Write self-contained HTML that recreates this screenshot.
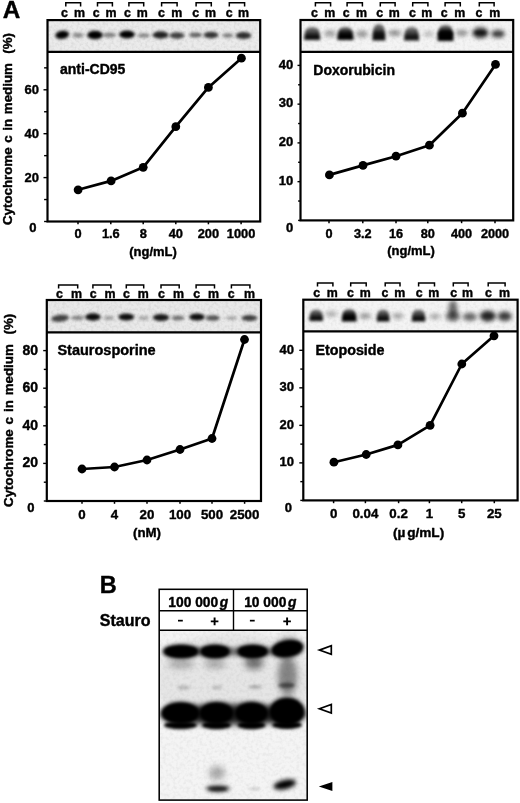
<!DOCTYPE html>
<html><head><meta charset="utf-8"><title>Figure</title>
<style>
html,body{margin:0;padding:0;background:#fff;}
svg{display:block;will-change:transform;}
text{font-family:"Liberation Sans",sans-serif;font-weight:bold;fill:#000;stroke:#000;stroke-width:0.4px;stroke-linejoin:round;}
</style></head><body>
<svg width="520" height="803" viewBox="0 0 520 803">
<defs>
<filter id="b1" x="-50%" y="-100%" width="200%" height="300%"><feGaussianBlur stdDeviation="1"/></filter>
<filter id="b15" x="-50%" y="-100%" width="200%" height="300%"><feGaussianBlur stdDeviation="1.5"/></filter>
<filter id="b2" x="-50%" y="-100%" width="200%" height="300%"><feGaussianBlur stdDeviation="2.2"/></filter>
<filter id="b3" x="-50%" y="-100%" width="200%" height="300%"><feGaussianBlur stdDeviation="3"/></filter>
<filter id="b5" x="-50%" y="-100%" width="200%" height="300%"><feGaussianBlur stdDeviation="5"/></filter>
<linearGradient id="gd1" x1="0" y1="0" x2="0" y2="1"><stop offset="0" stop-color="#000" stop-opacity="0.5"/><stop offset="0.45" stop-color="#000" stop-opacity="0.8"/><stop offset="0.7" stop-color="#000" stop-opacity="1"/><stop offset="1" stop-color="#000" stop-opacity="1"/></linearGradient>
<linearGradient id="gd2" x1="0" y1="0" x2="0" y2="1"><stop offset="0" stop-color="#000" stop-opacity="0.5"/><stop offset="0.4" stop-color="#000" stop-opacity="0.9"/><stop offset="0.6" stop-color="#000" stop-opacity="1"/><stop offset="1" stop-color="#000" stop-opacity="1"/></linearGradient>
<filter id="noiseA" x="0" y="0" width="100%" height="100%">
<feTurbulence type="fractalNoise" baseFrequency="0.35" numOctaves="2" seed="3" result="n"/>
<feColorMatrix in="n" type="matrix" values="0 0 0 0 0  0 0 0 0 0  0 0 0 0 0  0.5 0 0 0 -0.2"/>
</filter>
<filter id="noiseB" x="0" y="0" width="100%" height="100%">
<feTurbulence type="fractalNoise" baseFrequency="0.3" numOctaves="2" seed="8" result="n"/>
<feColorMatrix in="n" type="matrix" values="0 0 0 0 0  0 0 0 0 0  0 0 0 0 0  0.5 0 0 0 -0.2"/>
</filter>
<clipPath id="tlclip"><rect x="47.5" y="20.1" width="212.7" height="31.7"/></clipPath>
<clipPath id="trclip"><rect x="300.5" y="20" width="212.7" height="31.9"/></clipPath>
<clipPath id="blclip"><rect x="46.8" y="300" width="214.2" height="32.4"/></clipPath>
<clipPath id="brclip"><rect x="303.3" y="299.7" width="214.3" height="31.7"/></clipPath>
<clipPath id="bclip"><rect x="159.2" y="630.2" width="148" height="169.9"/></clipPath>
</defs>
<rect x="0" y="0" width="520" height="803" fill="#fff"/>
<text x="2.7" y="18.2" font-size="24.3" text-anchor="start" >A</text>
<text x="99.8" y="593" font-size="23.5" text-anchor="start" >B</text>
<rect x="47.5" y="20.1" width="212.7" height="31.7" fill="#ebebeb"/>
<rect x="47.5" y="20.1" width="212.7" height="31.7" filter="url(#noiseA)" opacity="0.3"/>
<g clip-path="url(#tlclip)">
<ellipse cx="62.2" cy="34.8" rx="7" ry="4" fill="#000" opacity="1" filter="url(#b15)" transform="rotate(-8 62.2 34.8)"/>
<ellipse cx="78" cy="35.2" rx="5.5" ry="2.4" fill="#000" opacity="0.42" filter="url(#b15)"/>
<ellipse cx="95" cy="35" rx="7.8" ry="4.3" fill="#000" opacity="1" filter="url(#b15)"/>
<ellipse cx="109.4" cy="35" rx="6.5" ry="2.4" fill="#000" opacity="0.45" filter="url(#b15)"/>
<ellipse cx="127" cy="34.5" rx="7.8" ry="3.9" fill="#000" opacity="1" filter="url(#b15)"/>
<ellipse cx="143.7" cy="35.5" rx="6.5" ry="2.2" fill="#000" opacity="0.42" filter="url(#b15)"/>
<ellipse cx="160.6" cy="35" rx="8" ry="3.7" fill="#000" opacity="0.86" filter="url(#b15)"/>
<ellipse cx="177" cy="35.5" rx="7.5" ry="3.3" fill="#000" opacity="0.72" filter="url(#b15)"/>
<ellipse cx="195.5" cy="35" rx="6.5" ry="2.6" fill="#000" opacity="0.58" filter="url(#b15)"/>
<ellipse cx="211" cy="35" rx="7.5" ry="3.2" fill="#000" opacity="0.78" filter="url(#b15)"/>
<ellipse cx="227.8" cy="35.5" rx="5.5" ry="2.4" fill="#000" opacity="0.42" filter="url(#b15)"/>
<ellipse cx="243.5" cy="35.5" rx="7.8" ry="3.6" fill="#000" opacity="0.8" filter="url(#b15)"/>
</g>
<rect x="47.5" y="20.1" width="212.7" height="201.4" fill="none" stroke="#000" stroke-width="2.2"/>
<line x1="47.5" y1="51.8" x2="260.2" y2="51.8" stroke="#000" stroke-width="2.2"/>
<path d="M65.8 6.4V2.7H80.6V6.4" fill="none" stroke="#000" stroke-width="1.5"/>
<text x="64.5" y="17.2" font-size="12.4" text-anchor="middle" >c</text>
<text x="79.5" y="17.2" font-size="12.4" text-anchor="middle" >m</text>
<path d="M97.5 6.4V2.7H112.4V6.4" fill="none" stroke="#000" stroke-width="1.5"/>
<text x="96.3" y="17.2" font-size="12.4" text-anchor="middle" >c</text>
<text x="110.9" y="17.2" font-size="12.4" text-anchor="middle" >m</text>
<path d="M128.9 6.4V2.7H143.7V6.4" fill="none" stroke="#000" stroke-width="1.5"/>
<text x="127.5" y="17.2" font-size="12.4" text-anchor="middle" >c</text>
<text x="142.3" y="17.2" font-size="12.4" text-anchor="middle" >m</text>
<path d="M161.6 6.4V2.7H177.1V6.4" fill="none" stroke="#000" stroke-width="1.5"/>
<text x="161.4" y="17.2" font-size="12.4" text-anchor="middle" >c</text>
<text x="176.8" y="17.2" font-size="12.4" text-anchor="middle" >m</text>
<path d="M196.1 6.4V2.7H211.3V6.4" fill="none" stroke="#000" stroke-width="1.5"/>
<text x="195.7" y="17.2" font-size="12.4" text-anchor="middle" >c</text>
<text x="210.6" y="17.2" font-size="12.4" text-anchor="middle" >m</text>
<path d="M229.3 6.4V2.7H244.6V6.4" fill="none" stroke="#000" stroke-width="1.5"/>
<text x="229.1" y="17.2" font-size="12.4" text-anchor="middle" >c</text>
<text x="243.6" y="17.2" font-size="12.4" text-anchor="middle" >m</text>
<line x1="44.1" y1="221.5" x2="47.5" y2="221.5" stroke="#000" stroke-width="1.4"/>
<line x1="44.1" y1="199.55" x2="47.5" y2="199.55" stroke="#000" stroke-width="1.4"/>
<line x1="43.5" y1="177.6" x2="47.5" y2="177.6" stroke="#000" stroke-width="1.4"/>
<line x1="44.1" y1="155.65" x2="47.5" y2="155.65" stroke="#000" stroke-width="1.4"/>
<line x1="43.5" y1="133.7" x2="47.5" y2="133.7" stroke="#000" stroke-width="1.4"/>
<line x1="44.1" y1="111.75" x2="47.5" y2="111.75" stroke="#000" stroke-width="1.4"/>
<line x1="43.5" y1="89.8" x2="47.5" y2="89.8" stroke="#000" stroke-width="1.4"/>
<line x1="44.1" y1="67.85" x2="47.5" y2="67.85" stroke="#000" stroke-width="1.4"/>
<text x="36.5" y="232" font-size="13" text-anchor="end" >0</text>
<text x="38.9" y="181.9" font-size="13" text-anchor="end" >20</text>
<text x="38.9" y="138" font-size="13" text-anchor="end" >40</text>
<text x="38.9" y="94.1" font-size="13" text-anchor="end" >60</text>
<line x1="78" y1="221.5" x2="78" y2="224.3" stroke="#000" stroke-width="1.5"/>
<text x="78" y="238.4" font-size="12.8" text-anchor="middle" >0</text>
<line x1="110.8" y1="221.5" x2="110.8" y2="224.3" stroke="#000" stroke-width="1.5"/>
<text x="110.8" y="238.4" font-size="12.8" text-anchor="middle" >1.6</text>
<line x1="143.2" y1="221.5" x2="143.2" y2="224.3" stroke="#000" stroke-width="1.5"/>
<text x="143.2" y="238.4" font-size="12.8" text-anchor="middle" >8</text>
<line x1="175.8" y1="221.5" x2="175.8" y2="224.3" stroke="#000" stroke-width="1.5"/>
<text x="175.8" y="238.4" font-size="12.8" text-anchor="middle" >40</text>
<line x1="208.4" y1="221.5" x2="208.4" y2="224.3" stroke="#000" stroke-width="1.5"/>
<text x="208.4" y="238.4" font-size="12.8" text-anchor="middle" >200</text>
<line x1="241.1" y1="221.5" x2="241.1" y2="224.3" stroke="#000" stroke-width="1.5"/>
<text x="241.1" y="238.4" font-size="12.8" text-anchor="middle" >1000</text>
<text x="153" y="255.6" font-size="13" text-anchor="middle" >(ng/mL)</text>
<text x="60" y="74" font-size="14" text-anchor="start" >anti-CD95</text>
<path d="M78.1 189.8L111.1 180.9L143.2 167.3L175.8 126.7L208.4 87.4L241.4 58.2" fill="none" stroke="#000" stroke-width="2.7" stroke-linejoin="round"/>
<circle cx="78.1" cy="189.8" r="4.4" fill="#000"/>
<circle cx="111.1" cy="180.9" r="4.4" fill="#000"/>
<circle cx="143.2" cy="167.3" r="4.4" fill="#000"/>
<circle cx="175.8" cy="126.7" r="4.4" fill="#000"/>
<circle cx="208.4" cy="87.4" r="4.4" fill="#000"/>
<circle cx="241.4" cy="58.2" r="4.4" fill="#000"/>
<rect x="300.5" y="20" width="212.7" height="31.9" fill="#f4f4f4"/>
<rect x="300.5" y="20" width="212.7" height="31.9" filter="url(#noiseA)" opacity="0.22"/>
<g clip-path="url(#trclip)">
<path d="M304.2 40H320.2C320.2 30.9 318.6 27 312.2 27C305.8 27 304.2 30.9 304.2 40Z" fill="url(#gd1)" opacity="0.95" filter="url(#b15)"/>
<ellipse cx="330" cy="33.5" rx="6" ry="3.6" fill="#000" opacity="0.33" filter="url(#b2)"/>
<path d="M337.3 40H353.5C353.5 30.9 351.88 27 345.4 27C338.92 27 337.3 30.9 337.3 40Z" fill="url(#gd2)" opacity="1" filter="url(#b15)"/>
<ellipse cx="362" cy="34" rx="6" ry="3.5" fill="#000" opacity="0.38" filter="url(#b2)"/>
<path d="M372.4 40.5H385.4C385.4 28.95 384.1 24 378.9 24C373.7 24 372.4 28.95 372.4 40.5Z" fill="url(#gd1)" opacity="0.95" filter="url(#b15)"/>
<ellipse cx="378.9" cy="33.5" rx="5" ry="2" fill="#000" opacity="0.5" filter="url(#b15)"/>
<ellipse cx="394.7" cy="33" rx="6.5" ry="3" fill="#000" opacity="0.42" filter="url(#b2)"/>
<path d="M404.1 40.5H419.1C419.1 31.05 417.6 27 411.6 27C405.6 27 404.1 31.05 404.1 40.5Z" fill="url(#gd1)" opacity="0.92" filter="url(#b15)"/>
<ellipse cx="428.6" cy="34" rx="5.5" ry="3" fill="#000" opacity="0.22" filter="url(#b2)"/>
<path d="M437.5 41H453.5C453.5 29.8 451.9 25 445.5 25C439.1 25 437.5 29.8 437.5 41Z" fill="url(#gd2)" opacity="1" filter="url(#b15)"/>
<ellipse cx="445.5" cy="34" rx="7.5" ry="3.5" fill="#000" opacity="0.8" filter="url(#b15)"/>
<ellipse cx="461.8" cy="33" rx="6" ry="3.2" fill="#000" opacity="0.4" filter="url(#b2)"/>
<ellipse cx="480.4" cy="32.8" rx="8" ry="5.5" fill="#000" opacity="0.78" filter="url(#b2)"/>
<ellipse cx="480.4" cy="32.8" rx="6" ry="1.8" fill="#000" opacity="0.7" filter="url(#b15)"/>
<ellipse cx="498" cy="33.8" rx="7" ry="4" fill="#000" opacity="0.66" filter="url(#b2)"/>
<ellipse cx="498" cy="34" rx="5" ry="1.4" fill="#000" opacity="0.3" filter="url(#b15)"/>
</g>
<rect x="300.5" y="20" width="212.7" height="200.4" fill="none" stroke="#000" stroke-width="2.2"/>
<line x1="300.5" y1="51.9" x2="513.2" y2="51.9" stroke="#000" stroke-width="2.2"/>
<path d="M315.4 6.4V2.7H330.6V6.4" fill="none" stroke="#000" stroke-width="1.5"/>
<text x="314.5" y="17.2" font-size="12.4" text-anchor="middle" >c</text>
<text x="329.7" y="17.2" font-size="12.4" text-anchor="middle" >m</text>
<path d="M347.1 6.4V2.7H362.4V6.4" fill="none" stroke="#000" stroke-width="1.5"/>
<text x="346.3" y="17.2" font-size="12.4" text-anchor="middle" >c</text>
<text x="361.4" y="17.2" font-size="12.4" text-anchor="middle" >m</text>
<path d="M380.3 6.4V2.7H395.1V6.4" fill="none" stroke="#000" stroke-width="1.5"/>
<text x="379.7" y="17.2" font-size="12.4" text-anchor="middle" >c</text>
<text x="394.2" y="17.2" font-size="12.4" text-anchor="middle" >m</text>
<path d="M412.7 6.4V2.7H427.9V6.4" fill="none" stroke="#000" stroke-width="1.5"/>
<text x="412.5" y="17.2" font-size="12.4" text-anchor="middle" >c</text>
<text x="426.8" y="17.2" font-size="12.4" text-anchor="middle" >m</text>
<path d="M445.1 6.4V2.7H460.3V6.4" fill="none" stroke="#000" stroke-width="1.5"/>
<text x="444.1" y="17.2" font-size="12.4" text-anchor="middle" >c</text>
<text x="459.8" y="17.2" font-size="12.4" text-anchor="middle" >m</text>
<path d="M479.3 6.4V2.7H494.1V6.4" fill="none" stroke="#000" stroke-width="1.5"/>
<text x="479" y="17.2" font-size="12.4" text-anchor="middle" >c</text>
<text x="494.7" y="17.2" font-size="12.4" text-anchor="middle" >m</text>
<line x1="298.1" y1="220.4" x2="300.5" y2="220.4" stroke="#000" stroke-width="1.4"/>
<line x1="298.1" y1="201.03" x2="300.5" y2="201.03" stroke="#000" stroke-width="1.4"/>
<line x1="297.5" y1="181.65" x2="300.5" y2="181.65" stroke="#000" stroke-width="1.4"/>
<line x1="298.1" y1="162.28" x2="300.5" y2="162.28" stroke="#000" stroke-width="1.4"/>
<line x1="297.5" y1="142.9" x2="300.5" y2="142.9" stroke="#000" stroke-width="1.4"/>
<line x1="298.1" y1="123.53" x2="300.5" y2="123.53" stroke="#000" stroke-width="1.4"/>
<line x1="297.5" y1="104.15" x2="300.5" y2="104.15" stroke="#000" stroke-width="1.4"/>
<line x1="298.1" y1="84.78" x2="300.5" y2="84.78" stroke="#000" stroke-width="1.4"/>
<line x1="297.5" y1="65.4" x2="300.5" y2="65.4" stroke="#000" stroke-width="1.4"/>
<text x="293.3" y="231.6" font-size="13" text-anchor="end" >0</text>
<text x="293.3" y="184.75" font-size="13" text-anchor="end" >10</text>
<text x="293.3" y="146" font-size="13" text-anchor="end" >20</text>
<text x="293.3" y="107.25" font-size="13" text-anchor="end" >30</text>
<text x="293.3" y="68.5" font-size="13" text-anchor="end" >40</text>
<line x1="329" y1="220.4" x2="329" y2="223.2" stroke="#000" stroke-width="1.5"/>
<text x="329" y="237.8" font-size="12.7" text-anchor="middle" >0</text>
<line x1="362.8" y1="220.4" x2="362.8" y2="223.2" stroke="#000" stroke-width="1.5"/>
<text x="362.8" y="237.8" font-size="12.7" text-anchor="middle" >3.2</text>
<line x1="396" y1="220.4" x2="396" y2="223.2" stroke="#000" stroke-width="1.5"/>
<text x="396" y="237.8" font-size="12.7" text-anchor="middle" >16</text>
<line x1="427.8" y1="220.4" x2="427.8" y2="223.2" stroke="#000" stroke-width="1.5"/>
<text x="427.8" y="237.8" font-size="12.7" text-anchor="middle" >80</text>
<line x1="461.6" y1="220.4" x2="461.6" y2="223.2" stroke="#000" stroke-width="1.5"/>
<text x="461.6" y="237.8" font-size="12.7" text-anchor="middle" >400</text>
<line x1="495" y1="220.4" x2="495" y2="223.2" stroke="#000" stroke-width="1.5"/>
<text x="495" y="237.8" font-size="12.7" text-anchor="middle" >2000</text>
<text x="411" y="254.7" font-size="13" text-anchor="middle" >(ng/mL)</text>
<text x="313.3" y="75.2" font-size="14" text-anchor="start" >Doxorubicin</text>
<path d="M329.4 174.9L363 165.4L396 156.2L429.4 145.2L462.4 113.2L495.5 64.4" fill="none" stroke="#000" stroke-width="2.7" stroke-linejoin="round"/>
<circle cx="329.4" cy="174.9" r="4.4" fill="#000"/>
<circle cx="363" cy="165.4" r="4.4" fill="#000"/>
<circle cx="396" cy="156.2" r="4.4" fill="#000"/>
<circle cx="429.4" cy="145.2" r="4.4" fill="#000"/>
<circle cx="462.4" cy="113.2" r="4.4" fill="#000"/>
<circle cx="495.5" cy="64.4" r="4.4" fill="#000"/>
<rect x="46.8" y="300" width="214.2" height="32.4" fill="#e9e9e9"/>
<rect x="46.8" y="300" width="214.2" height="32.4" filter="url(#noiseA)" opacity="0.3"/>
<g clip-path="url(#blclip)">
<ellipse cx="60.1" cy="318.3" rx="9" ry="3.5" fill="#000" opacity="0.72" filter="url(#b15)" transform="rotate(-6 60.1 318.3)"/>
<ellipse cx="77.7" cy="317.8" rx="6.5" ry="2.4" fill="#000" opacity="0.42" filter="url(#b15)"/>
<ellipse cx="92.9" cy="317" rx="7.8" ry="3.7" fill="#000" opacity="0.95" filter="url(#b15)"/>
<ellipse cx="108.8" cy="318" rx="5.5" ry="2.2" fill="#000" opacity="0.3" filter="url(#b15)"/>
<ellipse cx="126.3" cy="317" rx="8" ry="3.5" fill="#000" opacity="0.95" filter="url(#b15)"/>
<ellipse cx="143.7" cy="318" rx="5.5" ry="2" fill="#000" opacity="0.28" filter="url(#b15)"/>
<ellipse cx="161" cy="317.5" rx="8.2" ry="3.5" fill="#000" opacity="0.9" filter="url(#b15)"/>
<ellipse cx="177.9" cy="318" rx="6.5" ry="2.6" fill="#000" opacity="0.5" filter="url(#b15)"/>
<ellipse cx="197" cy="317" rx="7.8" ry="3.6" fill="#000" opacity="0.95" filter="url(#b15)"/>
<ellipse cx="212.8" cy="318" rx="7" ry="2.8" fill="#000" opacity="0.65" filter="url(#b15)"/>
<ellipse cx="231.6" cy="318" rx="5.5" ry="1.8" fill="#000" opacity="0.3" filter="url(#b15)"/>
<ellipse cx="249.4" cy="318" rx="8" ry="3" fill="#000" opacity="0.75" filter="url(#b15)"/>
</g>
<rect x="46.8" y="300" width="214.2" height="201" fill="none" stroke="#000" stroke-width="2.2"/>
<line x1="46.8" y1="332.4" x2="261" y2="332.4" stroke="#000" stroke-width="2.2"/>
<path d="M58.6 288.6V284.9H77.7V288.6" fill="none" stroke="#000" stroke-width="1.5"/>
<text x="59.4" y="297.6" font-size="12.4" text-anchor="middle" >c</text>
<text x="76.5" y="297.6" font-size="12.4" text-anchor="middle" >m</text>
<path d="M92.9 288.6V284.9H110.9V288.6" fill="none" stroke="#000" stroke-width="1.5"/>
<text x="93.2" y="297.6" font-size="12.4" text-anchor="middle" >c</text>
<text x="110" y="297.6" font-size="12.4" text-anchor="middle" >m</text>
<path d="M126.3 288.6V284.9H143.7V288.6" fill="none" stroke="#000" stroke-width="1.5"/>
<text x="126.5" y="297.6" font-size="12.4" text-anchor="middle" >c</text>
<text x="143.2" y="297.6" font-size="12.4" text-anchor="middle" >m</text>
<path d="M161 288.6V284.9H179.2V288.6" fill="none" stroke="#000" stroke-width="1.5"/>
<text x="161.4" y="297.6" font-size="12.4" text-anchor="middle" >c</text>
<text x="178.5" y="297.6" font-size="12.4" text-anchor="middle" >m</text>
<path d="M196.1 288.6V284.9H214.5V288.6" fill="none" stroke="#000" stroke-width="1.5"/>
<text x="196.8" y="297.6" font-size="12.4" text-anchor="middle" >c</text>
<text x="213.6" y="297.6" font-size="12.4" text-anchor="middle" >m</text>
<path d="M231.4 288.6V284.9H249.9V288.6" fill="none" stroke="#000" stroke-width="1.5"/>
<text x="231.2" y="297.6" font-size="12.4" text-anchor="middle" >c</text>
<text x="249.5" y="297.6" font-size="12.4" text-anchor="middle" >m</text>
<line x1="43.8" y1="501" x2="46.8" y2="501" stroke="#000" stroke-width="1.4"/>
<line x1="43.8" y1="482.2" x2="46.8" y2="482.2" stroke="#000" stroke-width="1.4"/>
<line x1="43.2" y1="463.4" x2="46.8" y2="463.4" stroke="#000" stroke-width="1.4"/>
<line x1="43.8" y1="444.6" x2="46.8" y2="444.6" stroke="#000" stroke-width="1.4"/>
<line x1="43.2" y1="425.8" x2="46.8" y2="425.8" stroke="#000" stroke-width="1.4"/>
<line x1="43.8" y1="407" x2="46.8" y2="407" stroke="#000" stroke-width="1.4"/>
<line x1="43.2" y1="388.2" x2="46.8" y2="388.2" stroke="#000" stroke-width="1.4"/>
<line x1="43.8" y1="369.4" x2="46.8" y2="369.4" stroke="#000" stroke-width="1.4"/>
<line x1="43.2" y1="350.6" x2="46.8" y2="350.6" stroke="#000" stroke-width="1.4"/>
<text x="34.6" y="511.9" font-size="13" text-anchor="end" >0</text>
<text x="38" y="467.3" font-size="14" text-anchor="end" >20</text>
<text x="38" y="429.7" font-size="14" text-anchor="end" >40</text>
<text x="38" y="392.1" font-size="14" text-anchor="end" >60</text>
<text x="38" y="354.5" font-size="14" text-anchor="end" >80</text>
<line x1="82" y1="501" x2="82" y2="503.8" stroke="#000" stroke-width="1.5"/>
<text x="82" y="519.2" font-size="13.3" text-anchor="middle" >0</text>
<line x1="114.5" y1="501" x2="114.5" y2="503.8" stroke="#000" stroke-width="1.5"/>
<text x="114.5" y="519.2" font-size="13.3" text-anchor="middle" >4</text>
<line x1="147" y1="501" x2="147" y2="503.8" stroke="#000" stroke-width="1.5"/>
<text x="147" y="519.2" font-size="13.3" text-anchor="middle" >20</text>
<line x1="180" y1="501" x2="180" y2="503.8" stroke="#000" stroke-width="1.5"/>
<text x="180" y="519.2" font-size="13.3" text-anchor="middle" >100</text>
<line x1="212" y1="501" x2="212" y2="503.8" stroke="#000" stroke-width="1.5"/>
<text x="212" y="519.2" font-size="13.3" text-anchor="middle" >500</text>
<line x1="244.6" y1="501" x2="244.6" y2="503.8" stroke="#000" stroke-width="1.5"/>
<text x="244.6" y="519.2" font-size="13.3" text-anchor="middle" >2500</text>
<text x="147" y="537" font-size="13.3" text-anchor="middle" >(nM)</text>
<text x="57.4" y="355.2" font-size="14.5" text-anchor="start" >Staurosporine</text>
<path d="M82 469L114.5 467L147 460L180 449.5L212 438.5L244.5 339.5" fill="none" stroke="#000" stroke-width="2.7" stroke-linejoin="round"/>
<circle cx="82" cy="469" r="4.4" fill="#000"/>
<circle cx="114.5" cy="467" r="4.4" fill="#000"/>
<circle cx="147" cy="460" r="4.4" fill="#000"/>
<circle cx="180" cy="449.5" r="4.4" fill="#000"/>
<circle cx="212" cy="438.5" r="4.4" fill="#000"/>
<circle cx="244.5" cy="339.5" r="4.4" fill="#000"/>
<rect x="303.3" y="299.7" width="214.3" height="31.7" fill="#f4f4f4"/>
<rect x="303.3" y="299.7" width="214.3" height="31.7" filter="url(#noiseA)" opacity="0.22"/>
<g clip-path="url(#brclip)">
<path d="M309.4 321H323C323 312.95 321.64 309.5 316.2 309.5C310.76 309.5 309.4 312.95 309.4 321Z" fill="url(#gd1)" opacity="0.95" filter="url(#b15)"/>
<ellipse cx="331.3" cy="314" rx="6" ry="2.8" fill="#000" opacity="0.3" filter="url(#b2)"/>
<path d="M341.8 321.5H356.6C356.6 312.75 355.12 309 349.2 309C343.28 309 341.8 312.75 341.8 321.5Z" fill="url(#gd2)" opacity="1" filter="url(#b15)"/>
<ellipse cx="365.1" cy="316" rx="6" ry="2.8" fill="#000" opacity="0.4" filter="url(#b2)"/>
<path d="M376.7 321.5H389.5C389.5 313.1 388.22 309.5 383.1 309.5C377.98 309.5 376.7 313.1 376.7 321.5Z" fill="url(#gd1)" opacity="0.95" filter="url(#b15)"/>
<ellipse cx="397.9" cy="316" rx="5.5" ry="2.8" fill="#000" opacity="0.36" filter="url(#b2)"/>
<path d="M411.8 321.5H425.4C425.4 313.1 424.04 309.5 418.6 309.5C413.16 309.5 411.8 313.1 411.8 321.5Z" fill="url(#gd1)" opacity="0.95" filter="url(#b15)"/>
<ellipse cx="434.9" cy="316.5" rx="5.5" ry="2.8" fill="#000" opacity="0.32" filter="url(#b2)"/>
<ellipse cx="452.9" cy="309.5" rx="4.5" ry="9.5" fill="#000" opacity="0.55" filter="url(#b2)"/>
<ellipse cx="452.9" cy="316.5" rx="7.5" ry="5" fill="#000" opacity="0.5" filter="url(#b2)"/>
<ellipse cx="469.8" cy="316.8" rx="7" ry="4" fill="#000" opacity="0.58" filter="url(#b2)"/>
<ellipse cx="487.8" cy="316" rx="8" ry="5.4" fill="#000" opacity="0.85" filter="url(#b2)"/>
<ellipse cx="504.7" cy="316.3" rx="7" ry="4.8" fill="#000" opacity="0.75" filter="url(#b2)"/>
</g>
<rect x="303.3" y="299.7" width="214.3" height="200.7" fill="none" stroke="#000" stroke-width="2.2"/>
<line x1="303.3" y1="331.4" x2="517.6" y2="331.4" stroke="#000" stroke-width="2.2"/>
<path d="M317.5 286.6V282.9H332.9V286.6" fill="none" stroke="#000" stroke-width="1.5"/>
<text x="316.7" y="297.2" font-size="12.4" text-anchor="middle" >c</text>
<text x="332.3" y="297.2" font-size="12.4" text-anchor="middle" >m</text>
<path d="M350.7 286.6V282.9H366.2V286.6" fill="none" stroke="#000" stroke-width="1.5"/>
<text x="350.5" y="297.2" font-size="12.4" text-anchor="middle" >c</text>
<text x="365.2" y="297.2" font-size="12.4" text-anchor="middle" >m</text>
<path d="M385.2 286.6V282.9H400V286.6" fill="none" stroke="#000" stroke-width="1.5"/>
<text x="384.9" y="297.2" font-size="12.4" text-anchor="middle" >c</text>
<text x="399.8" y="297.2" font-size="12.4" text-anchor="middle" >m</text>
<path d="M418.6 286.6V282.9H434.5V286.6" fill="none" stroke="#000" stroke-width="1.5"/>
<text x="419.3" y="297.2" font-size="12.4" text-anchor="middle" >c</text>
<text x="433.7" y="297.2" font-size="12.4" text-anchor="middle" >m</text>
<path d="M453.3 286.6V282.9H468.1V286.6" fill="none" stroke="#000" stroke-width="1.5"/>
<text x="453.7" y="297.2" font-size="12.4" text-anchor="middle" >c</text>
<text x="467.4" y="297.2" font-size="12.4" text-anchor="middle" >m</text>
<path d="M488.2 286.6V282.9H505.1V286.6" fill="none" stroke="#000" stroke-width="1.5"/>
<text x="488.5" y="297.2" font-size="12.4" text-anchor="middle" >c</text>
<text x="504.6" y="297.2" font-size="12.4" text-anchor="middle" >m</text>
<line x1="300.3" y1="500.4" x2="303.3" y2="500.4" stroke="#000" stroke-width="1.4"/>
<line x1="300.3" y1="481.64" x2="303.3" y2="481.64" stroke="#000" stroke-width="1.4"/>
<line x1="299.3" y1="462.88" x2="303.3" y2="462.88" stroke="#000" stroke-width="1.4"/>
<line x1="300.3" y1="444.12" x2="303.3" y2="444.12" stroke="#000" stroke-width="1.4"/>
<line x1="299.3" y1="425.36" x2="303.3" y2="425.36" stroke="#000" stroke-width="1.4"/>
<line x1="300.3" y1="406.6" x2="303.3" y2="406.6" stroke="#000" stroke-width="1.4"/>
<line x1="299.3" y1="387.84" x2="303.3" y2="387.84" stroke="#000" stroke-width="1.4"/>
<line x1="300.3" y1="369.08" x2="303.3" y2="369.08" stroke="#000" stroke-width="1.4"/>
<line x1="299.3" y1="350.32" x2="303.3" y2="350.32" stroke="#000" stroke-width="1.4"/>
<text x="291.9" y="512" font-size="13" text-anchor="end" >0</text>
<text x="293.9" y="466.18" font-size="13" text-anchor="end" >10</text>
<text x="293.9" y="428.66" font-size="13" text-anchor="end" >20</text>
<text x="293.9" y="391.14" font-size="13" text-anchor="end" >30</text>
<text x="293.9" y="353.62" font-size="13" text-anchor="end" >40</text>
<line x1="333.6" y1="500.4" x2="333.6" y2="503.2" stroke="#000" stroke-width="1.5"/>
<text x="333.6" y="518.3" font-size="13.3" text-anchor="middle" >0</text>
<line x1="365.4" y1="500.4" x2="365.4" y2="503.2" stroke="#000" stroke-width="1.5"/>
<text x="365.4" y="518.3" font-size="13.3" text-anchor="middle" >0.04</text>
<line x1="398.6" y1="500.4" x2="398.6" y2="503.2" stroke="#000" stroke-width="1.5"/>
<text x="398.6" y="518.3" font-size="13.3" text-anchor="middle" >0.2</text>
<line x1="429.4" y1="500.4" x2="429.4" y2="503.2" stroke="#000" stroke-width="1.5"/>
<text x="429.4" y="518.3" font-size="13.3" text-anchor="middle" >1</text>
<line x1="461.7" y1="500.4" x2="461.7" y2="503.2" stroke="#000" stroke-width="1.5"/>
<text x="461.7" y="518.3" font-size="13.3" text-anchor="middle" >5</text>
<line x1="494.3" y1="500.4" x2="494.3" y2="503.2" stroke="#000" stroke-width="1.5"/>
<text x="494.3" y="518.3" font-size="13.3" text-anchor="middle" >25</text>
<text x="418.6" y="536.7" font-size="13.6" text-anchor="middle" >(&#181;<tspan dx="1.8">g/mL)</tspan></text>
<text x="315.4" y="354.9" font-size="14.3" text-anchor="start" >Etoposide</text>
<path d="M333.9 462.2L366.2 454.5L397.9 444.9L430.1 425.3L461.8 364L494 335.8" fill="none" stroke="#000" stroke-width="2.7" stroke-linejoin="round"/>
<circle cx="333.9" cy="462.2" r="4.4" fill="#000"/>
<circle cx="366.2" cy="454.5" r="4.4" fill="#000"/>
<circle cx="397.9" cy="444.9" r="4.4" fill="#000"/>
<circle cx="430.1" cy="425.3" r="4.4" fill="#000"/>
<circle cx="461.8" cy="364" r="4.4" fill="#000"/>
<circle cx="494" cy="335.8" r="4.4" fill="#000"/>
<text transform="translate(12.4 225) rotate(-90)" font-size="13.3" word-spacing="1.0" text-anchor="start" xml:space="preserve">Cytochrome c in medium  (%)</text>
<text transform="translate(13 506.9) rotate(-90)" font-size="13.3" word-spacing="1.25" text-anchor="start" xml:space="preserve">Cytochrome c in medium  (%)</text>
<rect x="159.2" y="630.2" width="148" height="169.9" fill="#f4f4f4"/>
<rect x="159.2" y="630.2" width="148" height="169.9" filter="url(#noiseB)" opacity="0.22"/>
<g clip-path="url(#bclip)">
<ellipse cx="233" cy="680" rx="80" ry="48" fill="#000" opacity="0.06" filter="url(#b5)"/>
<ellipse cx="181" cy="651.5" rx="18" ry="7" fill="#000" opacity="1" filter="url(#b2)"/>
<ellipse cx="215" cy="651.5" rx="15" ry="7" fill="#000" opacity="1" filter="url(#b2)"/>
<ellipse cx="252.7" cy="651.5" rx="15.5" ry="7" fill="#000" opacity="1" filter="url(#b2)"/>
<ellipse cx="287.5" cy="648.6" rx="16" ry="9" fill="#000" opacity="1" filter="url(#b2)" transform="rotate(-9 287.5 648.6)"/>
<ellipse cx="181" cy="651.5" rx="16" ry="5.5" fill="#000" opacity="1" filter="url(#b15)"/>
<ellipse cx="215" cy="651.5" rx="13.5" ry="5.5" fill="#000" opacity="1" filter="url(#b15)"/>
<ellipse cx="252.7" cy="651.5" rx="14" ry="5.5" fill="#000" opacity="1" filter="url(#b15)"/>
<ellipse cx="287.5" cy="648.6" rx="15" ry="7.2" fill="#000" opacity="1" filter="url(#b15)" transform="rotate(-9 287.5 648.6)"/>
<ellipse cx="232" cy="651.5" rx="70" ry="4" fill="#000" opacity="0.5" filter="url(#b2)"/>
<ellipse cx="288" cy="637" rx="10" ry="4" fill="#000" opacity="0.12" filter="url(#b3)"/>
<ellipse cx="287.5" cy="676" rx="9.5" ry="20" fill="#000" opacity="0.42" filter="url(#b3)"/>
<ellipse cx="254" cy="663" rx="9.5" ry="6.5" fill="#000" opacity="0.5" filter="url(#b3)"/>
<ellipse cx="181" cy="664" rx="13" ry="4.5" fill="#000" opacity="0.26" filter="url(#b3)"/>
<ellipse cx="215" cy="664" rx="11" ry="4.5" fill="#000" opacity="0.26" filter="url(#b3)"/>
<ellipse cx="183.5" cy="687.5" rx="6.5" ry="2" fill="#000" opacity="0.2" filter="url(#b15)"/>
<ellipse cx="217" cy="687.5" rx="5.5" ry="2" fill="#000" opacity="0.18" filter="url(#b15)"/>
<ellipse cx="255" cy="687" rx="7" ry="1.5" fill="#000" opacity="0.32" filter="url(#b15)"/>
<ellipse cx="286.5" cy="685.3" rx="8.5" ry="2.6" fill="#000" opacity="0.5" filter="url(#b15)"/>
<ellipse cx="180.5" cy="713" rx="19" ry="11" fill="#000" opacity="1" filter="url(#b2)"/>
<ellipse cx="216.5" cy="713" rx="17" ry="11" fill="#000" opacity="1" filter="url(#b2)"/>
<ellipse cx="251.5" cy="713" rx="16.5" ry="11" fill="#000" opacity="1" filter="url(#b2)"/>
<ellipse cx="287" cy="711.5" rx="17.5" ry="14" fill="#000" opacity="1" filter="url(#b2)"/>
<ellipse cx="180.5" cy="713" rx="17.5" ry="9.5" fill="#000" opacity="1" filter="url(#b15)"/>
<ellipse cx="216.5" cy="713" rx="15.5" ry="9.5" fill="#000" opacity="1" filter="url(#b15)"/>
<ellipse cx="251.5" cy="713" rx="15" ry="9.5" fill="#000" opacity="1" filter="url(#b15)"/>
<ellipse cx="287" cy="711.5" rx="16" ry="12.5" fill="#000" opacity="1" filter="url(#b15)"/>
<ellipse cx="233" cy="714.5" rx="74" ry="10" fill="#000" opacity="0.85" filter="url(#b3)"/>
<ellipse cx="180.5" cy="725.2" rx="16.5" ry="4" fill="#000" opacity="1" filter="url(#b15)"/>
<ellipse cx="216.5" cy="725.2" rx="14.5" ry="4" fill="#000" opacity="1" filter="url(#b15)"/>
<ellipse cx="251.5" cy="725.2" rx="14" ry="4" fill="#000" opacity="1" filter="url(#b15)"/>
<ellipse cx="287" cy="725" rx="15" ry="4" fill="#000" opacity="1" filter="url(#b15)"/>
<ellipse cx="217.8" cy="788.6" rx="12" ry="3.2" fill="#000" opacity="0.85" filter="url(#b2)"/>
<ellipse cx="217.8" cy="789" rx="9" ry="1.6" fill="#000" opacity="0.6" filter="url(#b15)"/>
<ellipse cx="217" cy="773" rx="8" ry="7" fill="#000" opacity="0.3" filter="url(#b3)"/>
<ellipse cx="254.5" cy="789" rx="6" ry="1.5" fill="#000" opacity="0.16" filter="url(#b15)"/>
<ellipse cx="284.8" cy="784.6" rx="11.5" ry="4.6" fill="#000" opacity="1" filter="url(#b2)" transform="rotate(-13 284.8 784.6)"/>
</g>
<rect x="159.2" y="589.3" width="148" height="210.8" fill="none" stroke="#000" stroke-width="1.55"/>
<line x1="159.2" y1="610.8" x2="307.2" y2="610.8" stroke="#000" stroke-width="1.4"/>
<line x1="159.2" y1="630.2" x2="307.2" y2="630.2" stroke="#000" stroke-width="1.4"/>
<line x1="233.5" y1="589.3" x2="233.5" y2="630.2" stroke="#000" stroke-width="1.4"/>
<text x="168.3" y="607" font-size="13.8" text-anchor="start">100 000<tspan font-style="italic" dx="1.6">g</tspan></text>
<text x="244.2" y="607" font-size="13.8" text-anchor="start">10 000<tspan font-style="italic" dx="1.6">g</tspan></text>
<text x="99.8" y="626.2" font-size="16" text-anchor="start" >Stauro</text>
<rect x="178.0" y="619.8" width="4.8" height="1.7" fill="#000"/>
<rect x="249.9" y="619.8" width="4.8" height="1.7" fill="#000"/>
<path d="M210.79999999999998 621.4H218.4M214.6 617.6V625.2" stroke="#000" stroke-width="1.9" fill="none"/>
<path d="M283.3 621.4H290.90000000000003M287.1 617.6V625.2" stroke="#000" stroke-width="1.9" fill="none"/>
<path d="M319.4 650.1L331.3 645.8000000000001V654.4Z" fill="#fff" stroke="#000" stroke-width="1.7" stroke-linejoin="miter"/>
<path d="M319.4 708.8L331.3 704.5V713.0999999999999Z" fill="#fff" stroke="#000" stroke-width="1.7" stroke-linejoin="miter"/>
<path d="M318.8 786.5L332.4 781.9V791.1Z" fill="#000"/>
</svg></body></html>
